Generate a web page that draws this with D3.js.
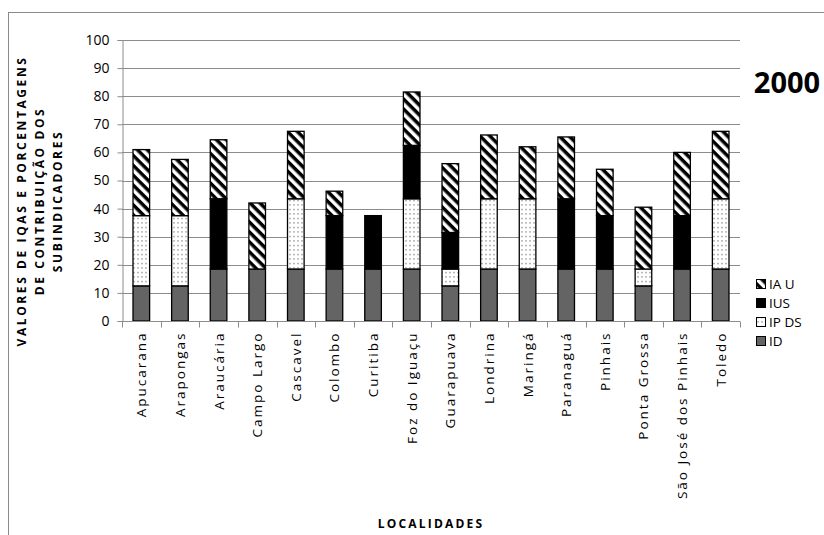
<!DOCTYPE html>
<html>
<head>
<meta charset="utf-8">
<script src="https://cdn.jsdelivr.net/npm/d3@7"></script>
<style>
  html, body { margin: 0; padding: 0; background: #fff; }
  svg { display: block; font-family: "Open Sans", "DejaVu Sans", sans-serif; }
</style>
</head>
<body>
<svg id="chart" width="824" height="535"></svg>
<script>
// Localities (x categories)
const localidades = ["Apucarana", "Arapongas", "Araucária", "Campo Largo", "Cascavel", "Colombo",
  "Curitiba", "Foz do Iguaçu", "Guarapuava", "Londrina", "Maringá", "Paranaguá", "Pinhais",
  "Ponta Grossa", "São José dos Pinhais", "Toledo"];

// Sub-indicator contributions, stacked from bottom to top
const ID   = [12.5, 12.5, 18.5, 18.5, 18.5, 18.5, 18.5, 18.5, 12.5, 18.5, 18.5, 18.5, 18.5, 12.5, 18.5, 18.5];
const IPDS = [25, 25, 0, 0, 25, 0, 0, 25, 6, 25, 25, 0, 0, 6, 0, 25];
const IUS  = [0, 0, 25, 0, 0, 19, 19, 19, 13, 0, 0, 25, 19, 0, 19, 0];
const IAU  = [23.5, 20, 21, 23.5, 24, 8.7, 0, 19, 24.5, 22.7, 18.5, 22, 16.5, 22, 22.5, 24];

const seriesKeys = ["ID", "IPDS", "IUS", "IAU"];
const legendLabels = { IAU: "IA U", IUS: "IUS", IPDS: "IP DS", ID: "ID" };
const yTicks = [0, 10, 20, 30, 40, 50, 60, 70, 80, 90, 100];
const yTitleLines = ["VALORES DE IQAS E PORCENTAGENS", "DE CONTRIBUIÇÃO DOS", "SUBINDICADORES"];
const xTitle = "LOCALIDADES";
const yearLabel = "2000";

const table = localidades.map((name, i) => ({
  name, ID: ID[i], IPDS: IPDS[i], IUS: IUS[i], IAU: IAU[i]
}));

const svg = d3.select("#chart");
const plot = { left: 122, right: 740, top: 40, bottom: 321 };

// Outer frame of the chart area
svg.append("rect")
  .attr("x", 8.5).attr("y", 12.5)
  .attr("width", 900).attr("height", 600)
  .attr("fill", "none").attr("stroke", "#8a8a8a").attr("stroke-width", 1);

// Fill patterns
const defs = svg.append("defs");
const stripe = defs.append("pattern")
  .attr("id", "pat-iau").attr("patternUnits", "userSpaceOnUse")
  .attr("width", 7).attr("height", 7)
  .attr("patternTransform", "rotate(45)");
stripe.append("rect").attr("width", 7).attr("height", 7).attr("fill", "#fff");
stripe.append("rect").attr("width", 7).attr("height", 3.5).attr("fill", "#000");

const dots = defs.append("pattern")
  .attr("id", "pat-ipds").attr("patternUnits", "userSpaceOnUse")
  .attr("width", 4).attr("height", 4.5);
dots.append("rect").attr("width", 4).attr("height", 4.5).attr("fill", "#fff");
dots.append("rect").attr("x", 1.5).attr("y", 2).attr("width", 1).attr("height", 1).attr("fill", "#222");

const fills = { ID: "#646464", IPDS: "url(#pat-ipds)", IUS: "#000", IAU: "url(#pat-iau)" };

const x = d3.scaleBand().domain(localidades).range([plot.left, plot.right]).paddingInner(0.57).paddingOuter(0.285);
const xBounds = d3.scaleBand().domain(localidades).range([plot.left, plot.right]);
const y = d3.scaleLinear().domain([0, 100]).range([plot.bottom, plot.top]);

// Gridlines
svg.append("g").selectAll("line").data(yTicks.filter(t => t > 0)).join("line")
  .attr("x1", plot.left).attr("x2", plot.right)
  .attr("y1", d => Math.round(y(d)) + 0.5).attr("y2", d => Math.round(y(d)) + 0.5)
  .attr("stroke", "#8c8c8c").attr("stroke-width", 1);

// Y axis
const yAxis = svg.append("g")
  .attr("transform", `translate(${plot.left + 0.5},0)`)
  .call(d3.axisLeft(y).tickValues(yTicks).tickSize(5).tickPadding(8));
yAxis.select(".domain").attr("stroke", "#8c8c8c");
yAxis.selectAll(".tick line").attr("stroke", "#8c8c8c");
yAxis.selectAll(".tick text").attr("font-size", 14).attr("fill", "#000")
  .attr("font-family", "'Open Sans', sans-serif");

// Stacked bars
const stack = d3.stack().keys(seriesKeys)(table);
const gBars = svg.append("g");
stack.forEach(layer => {
  gBars.append("g").selectAll("rect")
    .data(layer.filter(d => d[1] - d[0] > 0))
    .join("rect")
    .attr("x", d => x(d.data.name))
    .attr("width", x.bandwidth())
    .attr("y", d => y(d[1]))
    .attr("height", d => y(d[0]) - y(d[1]))
    .attr("fill", fills[layer.key])
    .attr("stroke", "#000").attr("stroke-width", 1.3);
});

// X axis with ticks on category boundaries
const xAxis = svg.append("g").attr("transform", `translate(0,${plot.bottom + 0.5})`);
xAxis.append("line").attr("x1", plot.left).attr("x2", plot.right)
  .attr("stroke", "#8c8c8c");
xAxis.selectAll("line.b").data(localidades.concat(["__end"])).join("line").attr("class", "b")
  .attr("x1", (d, i) => Math.round(i < localidades.length ? xBounds(d) : plot.right) + 0.5)
  .attr("x2", (d, i) => Math.round(i < localidades.length ? xBounds(d) : plot.right) + 0.5)
  .attr("y1", 0).attr("y2", 6).attr("stroke", "#8c8c8c");
xAxis.selectAll("text").data(localidades).join("text")
  .attr("transform", d => `translate(${x(d) + x.bandwidth() / 2 + 5},10) rotate(-90)`)
  .attr("text-anchor", "end")
  .attr("font-size", 13.5).attr("letter-spacing", 2)
  .text(d => d);

// Axis titles
const yt = svg.append("g").attr("transform", "translate(0,201)");
yTitleLines.forEach((line, i) => {
  yt.append("text")
    .attr("transform", `translate(${26 + i * 18},0) rotate(-90)`)
    .attr("text-anchor", "middle")
    .attr("font-size", 12).attr("font-weight", "bold").attr("letter-spacing", 2.6)
    .text(line);
});
svg.append("text").attr("x", 431).attr("y", 528)
  .attr("text-anchor", "middle").attr("font-size", 12).attr("font-weight", "bold")
  .attr("letter-spacing", 2.2).text(xTitle);

// Year label
svg.append("text").attr("x", 787).attr("y", 93)
  .attr("text-anchor", "middle").attr("font-size", 29).attr("font-weight", "bold")
  .text(yearLabel);

// Legend (top-down order IAU, IUS, IPDS, ID)
const legendOrder = ["IAU", "IUS", "IPDS", "ID"];
const lg = svg.append("g");
legendOrder.forEach((k, i) => {
  const cy = 284 + i * 19;
  lg.append("rect").attr("x", 756.5).attr("y", cy - 4.5).attr("width", 9).attr("height", 9)
    .attr("fill", fills[k]).attr("stroke", "#000").attr("stroke-width", 1);
  lg.append("text").attr("x", 769).attr("y", cy + 5)
    .attr("font-size", 13.5).text(legendLabels[k]);
});
</script>
</body>
</html>
